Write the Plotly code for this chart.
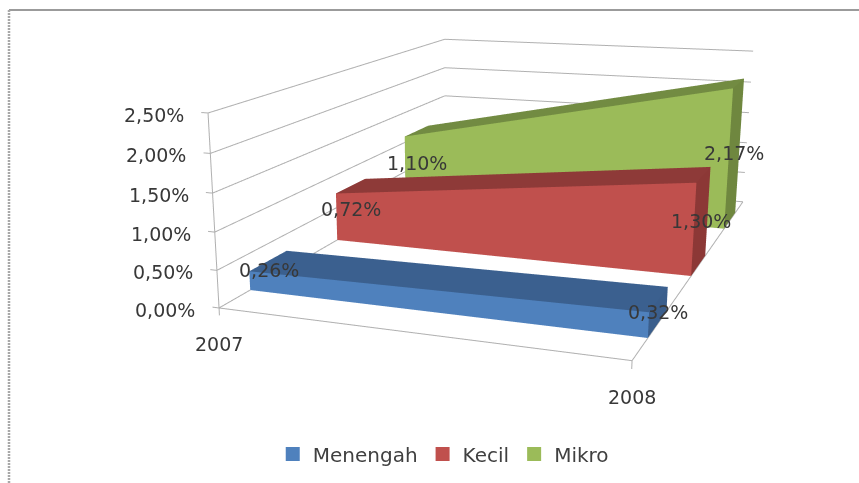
import numpy as np
import plotly.graph_objects as go

# Chart data
years = ["2007", "2008"]
series_names = ["Menengah", "Kecil", "Mikro"]
menengah = [0.26, 0.32]
kecil = [0.72, 1.30]
mikro = [1.10, 2.17]
value_ticks = [0.0, 0.5, 1.0, 1.5, 2.0, 2.5]

front_colors = ["#4F81BD", "#C0504D", "#9BBB59"]
top_colors = ["#3B608F", "#8E3A38", "#728B42"]
side_colors = ["#3A5E8C", "#8C3836", "#6F873F"]
grid_color = "#B0B0B0"
text_color = "#383838"
font_family = "DejaVu Sans"
font_size = 19

# Perspective frame of the chart box, in camera coordinates (x right, y down, z forward)
ex = np.array([0.980, 0.0975, -0.172])
ey = np.array([0.618, -0.418, 0.666])
ez = np.array([-0.0057, -0.9906, -0.1364])
origin = np.array([-1.083, 0.342, 3.0])
span_x = 2.044 * ex
span_y = 1.937 * ey
per_percent = 0.983 * ez / 2.5

# Scene basis: x along the front edge, z normal to the floor
wx = ex / np.linalg.norm(ex)
wz = np.cross(ex, ey)
wz = wz / np.linalg.norm(wz)
if wz[1] > 0:
    wz = -wz
wy = np.cross(wz, wx)
rot = np.array([wx, wy, wz])  # rows: scene axes in camera coordinates
anchor = origin + span_x / 2 + span_y / 2
z_unit = float(per_percent @ wz)
half = 3.0


def place(u, t, v):
    """Scene position of year fraction u, depth fraction t and a value in percent."""
    p = origin + u * span_x + t * span_y + v * per_percent
    s = rot @ (p - anchor)
    return float(s[0]), float(s[1]), float(v)


eye = rot @ (-anchor)
forward = rot @ np.array([0.0, 0.0, 1.0])
up = rot @ np.array([0.0, -1.0, 0.0])
look = eye + 3.0 * forward

fig = go.Figure()

# Walls and floor
gx, gy, gz = [], [], []


def segment(a, b):
    for axis, i in ((gx, 0), (gy, 1), (gz, 2)):
        axis.extend([a[i], b[i], None])


for v in value_ticks:
    segment(place(0, 0, v), place(0, 1, v))
    segment(place(0, 1, v), place(1, 1, v))
segment(place(0, 0, 0), place(1, 0, 0))
segment(place(1, 0, 0), place(1, 1, 0))
segment(place(0, 0, 0), place(0, 0, value_ticks[-1]))

# Tick stubs on the value axis and below both years
for v in value_ticks:
    segment(place(0, 0, v), place(-0.018, 0, v))
for u in (0, 1):
    segment(place(u, 0, 0), place(u, 0, -0.1))
fig.add_trace(go.Scatter3d(x=gx, y=gy, z=gz, mode="lines",
                           line=dict(color=grid_color, width=2),
                           hoverinfo="skip", showlegend=False))

# One ribbon per series
all_values = [menengah, kecil, mikro]
centers = [1 / 6, 1 / 2, 5 / 6]
half_depth = 0.066
annotations = []
for k, name in enumerate(series_names):
    v0, v1 = all_values[k]
    d0, d1 = centers[k] - half_depth, centers[k] + half_depth
    pts = [place(0, d0, 0), place(1, d0, 0), place(1, d0, v1), place(0, d0, v0),
           place(0, d1, 0), place(1, d1, 0), place(1, d1, v1), place(0, d1, v0)]
    # front, top, right end
    faces = [(0, 1, 2), (0, 2, 3), (3, 2, 6), (3, 6, 7), (1, 5, 6), (1, 6, 2)]
    colors = [front_colors[k]] * 2 + [top_colors[k]] * 2 + [side_colors[k]] * 2
    fig.add_trace(go.Mesh3d(
        x=[p[0] for p in pts], y=[p[1] for p in pts], z=[p[2] for p in pts],
        i=[f[0] for f in faces], j=[f[1] for f in faces], k=[f[2] for f in faces],
        facecolor=colors, color=front_colors[k], flatshading=True,
        lighting=dict(ambient=1, diffuse=0, specular=0, roughness=1, fresnel=0),
        name=name, showlegend=False, hoverinfo="name"))
    # Legend key for the ribbon
    fig.add_trace(go.Scatter3d(
        x=[None], y=[None], z=[None], mode="markers", name=name,
        marker=dict(symbol="square", size=14, color=front_colors[k])))
    for u, v in zip((0, 1), all_values[k]):
        sx, sy, _ = place(u, centers[k], v / 2)
        annotations.append(dict(x=sx, y=sy, z=v / 2, text=f"{v:.2f}%".replace(".", ","),
                                showarrow=False, xanchor="center", yanchor="middle",
                                font=dict(family=font_family, size=font_size, color=text_color)))

# Value axis labels
for v in value_ticks:
    sx, sy, _ = place(0, 0, v)
    annotations.append(dict(x=sx, y=sy, z=v, text=f"{v:.2f}%".replace(".", ","),
                            showarrow=False, xanchor="right", yanchor="middle",
                            xshift=-22, yshift=-2,
                            font=dict(family=font_family, size=font_size, color=text_color)))

# Year labels
for u, year in zip((0, 1), years):
    sx, sy, _ = place(u, 0, 0)
    annotations.append(dict(x=sx, y=sy, z=0, text=year, showarrow=False,
                            xanchor="center", yanchor="middle", yshift=-36,
                            font=dict(family=font_family, size=font_size, color=text_color)))

hidden = dict(visible=False, showgrid=False, zeroline=False, showspikes=False)
fig.update_layout(
    width=859, height=483,
    margin=dict(l=0, r=0, t=0, b=0),
    paper_bgcolor="white",
    font=dict(family=font_family, size=font_size, color="#404040"),
    legend=dict(orientation="h", x=0.516, y=0.06, xanchor="center", yanchor="middle",
                bgcolor="rgba(0,0,0,0)", font=dict(size=20, color="#404040")),
    scene=dict(
        domain=dict(x=[0, 1], y=[0, 1]),
        xaxis=dict(range=[-half, half], **hidden),
        yaxis=dict(range=[-half, half], **hidden),
        zaxis=dict(range=[-half / z_unit, half / z_unit], **hidden),
        aspectmode="manual",
        aspectratio=dict(x=2 * half, y=2 * half, z=2 * half),
        bgcolor="white",
        camera=dict(
            eye=dict(x=float(eye[0]), y=float(eye[1]), z=float(eye[2])),
            center=dict(x=float(look[0]), y=float(look[1]), z=float(look[2])),
            up=dict(x=float(up[0]), y=float(up[1]), z=float(up[2])),
            projection=dict(type="perspective"),
        ),
        annotations=annotations,
    ),
    shapes=[
        dict(type="line", xref="paper", yref="paper", x0=9 / 859, x1=1, y0=1 - 10 / 483, y1=1 - 10 / 483,
             line=dict(color="#7A7A7A", width=1.5)),
        dict(type="line", xref="paper", yref="paper", x0=9 / 859, x1=9 / 859, y0=0, y1=1 - 10 / 483,
             line=dict(color="#A8A8A8", width=2.5, dash="2px,1px")),
    ],
)

fig.write_html("out.html")
